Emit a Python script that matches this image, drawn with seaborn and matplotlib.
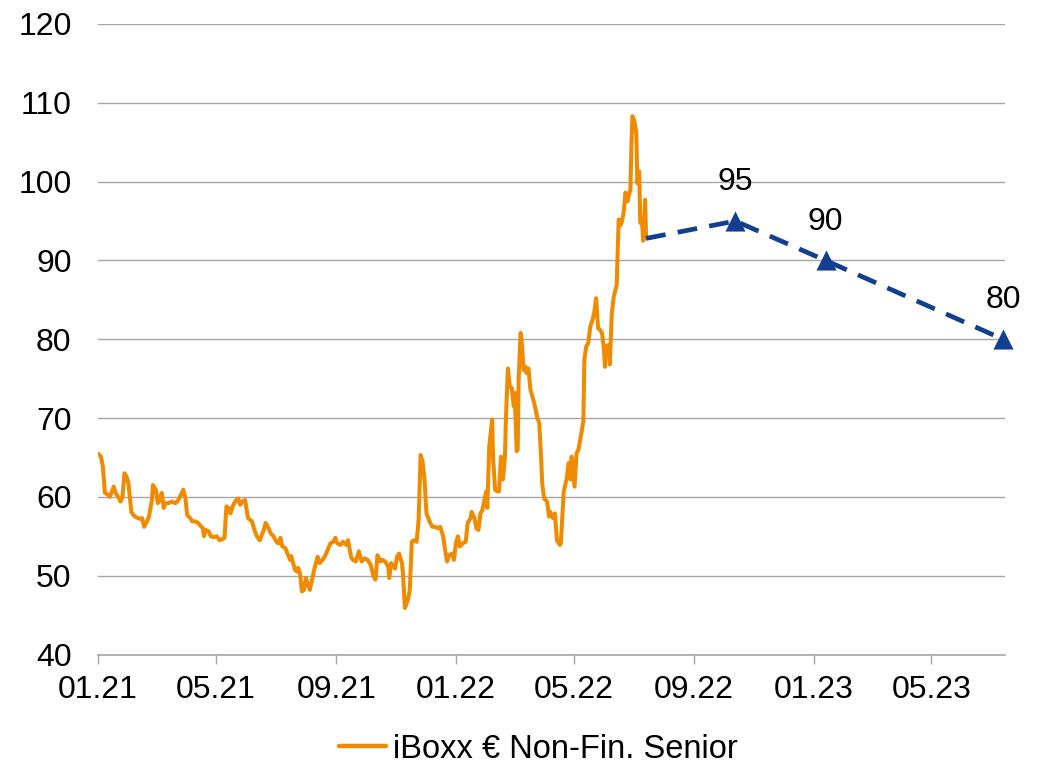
import matplotlib
matplotlib.use("Agg")
import matplotlib.pyplot as plt
from matplotlib.lines import Line2D
import pandas as pd
import seaborn as sns

# iBoxx € Non-Financials Senior spread history
hist_dates = [
    "2021-01-01", "2021-01-04", "2021-01-06", "2021-01-08", "2021-01-11", "2021-01-13",
    "2021-01-17", "2021-01-19", "2021-01-22", "2021-01-24", "2021-01-26", "2021-01-28",
    "2021-01-30", "2021-02-01", "2021-02-04", "2021-02-06", "2021-02-09", "2021-02-13",
    "2021-02-15", "2021-02-17", "2021-02-20", "2021-02-22", "2021-02-25", "2021-02-26",
    "2021-03-01", "2021-03-03", "2021-03-05", "2021-03-07", "2021-03-09", "2021-03-11",
    "2021-03-14", "2021-03-17", "2021-03-21", "2021-03-24", "2021-03-27", "2021-03-29",
    "2021-03-31", "2021-04-02", "2021-04-05", "2021-04-07", "2021-04-10", "2021-04-13",
    "2021-04-15", "2021-04-18", "2021-04-19", "2021-04-21", "2021-04-24", "2021-04-26",
    "2021-04-29", "2021-05-02", "2021-05-05", "2021-05-07", "2021-05-10", "2021-05-12",
    "2021-05-14", "2021-05-16", "2021-05-19", "2021-05-22", "2021-05-24", "2021-05-26",
    "2021-05-28", "2021-05-31", "2021-06-02", "2021-06-03", "2021-06-07", "2021-06-09",
    "2021-06-12", "2021-06-15", "2021-06-19", "2021-06-21", "2021-06-24", "2021-06-26",
    "2021-06-29", "2021-07-02", "2021-07-04", "2021-07-06", "2021-07-08", "2021-07-11",
    "2021-07-13", "2021-07-16", "2021-07-17", "2021-07-19", "2021-07-21", "2021-07-23",
    "2021-07-24", "2021-07-26", "2021-07-28", "2021-07-30", "2021-08-01", "2021-08-04",
    "2021-08-05", "2021-08-08", "2021-08-10", "2021-08-13", "2021-08-15", "2021-08-18",
    "2021-08-21", "2021-08-24", "2021-08-26", "2021-08-29", "2021-08-31", "2021-09-02",
    "2021-09-05", "2021-09-08", "2021-09-11", "2021-09-13", "2021-09-16", "2021-09-18",
    "2021-09-21", "2021-09-24", "2021-09-27", "2021-09-30", "2021-10-03", "2021-10-06",
    "2021-10-09", "2021-10-11", "2021-10-13", "2021-10-16", "2021-10-18", "2021-10-21",
    "2021-10-24", "2021-10-25", "2021-10-27", "2021-10-31", "2021-11-02", "2021-11-04",
    "2021-11-07", "2021-11-08", "2021-11-10", "2021-11-13", "2021-11-15", "2021-11-17",
    "2021-11-19", "2021-11-22", "2021-11-24", "2021-11-26", "2021-11-28", "2021-11-30",
    "2021-12-02", "2021-12-05", "2021-12-08", "2021-12-11", "2021-12-14", "2021-12-16",
    "2021-12-19", "2021-12-21", "2021-12-23", "2021-12-25", "2021-12-28", "2021-12-30",
    "2022-01-01", "2022-01-03", "2022-01-05", "2022-01-08", "2022-01-11", "2022-01-13",
    "2022-01-16", "2022-01-17", "2022-01-20", "2022-01-22", "2022-01-24", "2022-01-26",
    "2022-01-28", "2022-01-30", "2022-02-01", "2022-02-02", "2022-02-04", "2022-02-07",
    "2022-02-08", "2022-02-10", "2022-02-12", "2022-02-14", "2022-02-16", "2022-02-18",
    "2022-02-20", "2022-02-21", "2022-02-23", "2022-02-25", "2022-02-27", "2022-03-01",
    "2022-03-02", "2022-03-04", "2022-03-05", "2022-03-06", "2022-03-08", "2022-03-09",
    "2022-03-11", "2022-03-13", "2022-03-14", "2022-03-16", "2022-03-18", "2022-03-21",
    "2022-03-23", "2022-03-25", "2022-03-27", "2022-03-29", "2022-03-30", "2022-04-01",
    "2022-04-04", "2022-04-06", "2022-04-07", "2022-04-10", "2022-04-12", "2022-04-14",
    "2022-04-17", "2022-04-18", "2022-04-21", "2022-04-24", "2022-04-26", "2022-04-28",
    "2022-04-29", "2022-05-02", "2022-05-04", "2022-05-06", "2022-05-09", "2022-05-11",
    "2022-05-12", "2022-05-14", "2022-05-16", "2022-05-18", "2022-05-20", "2022-05-22",
    "2022-05-24", "2022-05-26", "2022-05-28", "2022-05-30", "2022-06-01", "2022-06-02",
    "2022-06-03", "2022-06-06", "2022-06-07", "2022-06-09", "2022-06-11", "2022-06-14",
    "2022-06-15", "2022-06-16", "2022-06-18", "2022-06-19", "2022-06-21", "2022-06-23",
    "2022-06-25", "2022-06-26", "2022-06-28", "2022-06-29", "2022-06-30", "2022-07-02",
    "2022-07-04", "2022-07-05", "2022-07-07", "2022-07-08", "2022-07-10", "2022-07-11",
    "2022-07-13", "2022-07-14",
]
hist_values = [
    65.5, 65.1, 63.8, 60.5, 60.3, 60.0,
    61.3, 60.5, 59.9, 59.4, 60.0, 63.0,
    62.6, 61.8, 58.1, 57.7, 57.4, 57.2,
    57.3, 56.2, 56.9, 57.5, 59.6, 61.5,
    60.9, 59.2, 59.6, 60.5, 58.6, 59.2,
    59.2, 59.4, 59.2, 59.6, 60.4, 60.9,
    60.0, 57.7, 57.3, 56.9, 56.9, 56.7,
    56.4, 56.0, 55.0, 55.8, 55.6, 55.0,
    54.9, 55.0, 54.5, 54.6, 54.8, 58.8,
    58.6, 57.9, 59.0, 59.6, 59.8, 59.0,
    59.4, 59.6, 58.1, 57.3, 56.9, 56.0,
    55.0, 54.5, 55.8, 56.7, 56.0, 55.4,
    55.0, 54.3, 54.1, 54.8, 53.7, 53.5,
    52.9, 52.0, 52.5, 51.6, 50.7, 50.5,
    51.0, 50.3, 48.0, 48.2, 49.7, 48.6,
    48.2, 49.9, 51.0, 52.4, 51.6, 52.0,
    52.6, 53.5, 54.1, 54.3, 54.8, 54.1,
    53.9, 54.3, 53.9, 54.5, 52.4, 52.0,
    51.8, 53.1, 51.8, 52.2, 52.0, 51.4,
    49.9, 49.5, 52.6, 51.8, 52.0, 51.8,
    51.1, 49.7, 51.6, 50.9, 52.4, 52.8,
    51.6, 50.3, 45.9, 46.9, 48.2, 54.3,
    54.5, 54.3, 57.1, 65.3, 64.5, 62.2,
    57.9, 56.9, 56.2, 56.2, 56.0, 56.2,
    55.0, 53.3, 51.8, 52.6, 52.8, 52.0,
    54.1, 55.0, 53.7, 54.1, 54.3, 56.7,
    57.3, 58.1, 57.3, 56.0, 55.8, 57.9,
    58.3, 59.6, 60.7, 58.6, 66.4, 69.8,
    64.7, 60.9, 60.7, 60.7, 65.1, 62.2,
    65.1, 69.8, 76.3, 74.0, 73.8, 71.5,
    73.2, 65.8, 66.0, 74.9, 80.8, 79.9,
    76.1, 76.5, 75.7, 76.3, 73.6, 72.3,
    71.3, 70.0, 69.4, 64.7, 61.7, 59.8,
    59.4, 57.5, 58.1, 57.3, 57.9, 54.5,
    53.9, 54.1, 60.7, 62.3, 64.3, 62.2,
    65.1, 61.3, 65.5, 66.0, 68.1, 69.6,
    77.4, 79.1, 79.5, 81.6, 82.3, 83.3,
    85.2, 81.4, 81.2, 80.8, 78.7, 76.5,
    79.1, 79.3, 76.8, 83.3, 85.4, 86.9,
    90.9, 95.2, 94.5, 94.8, 96.0, 98.6,
    97.5, 98.1, 99.0, 104.5, 108.3, 107.7,
    106.2, 99.8, 101.3, 94.8, 94.5, 92.5,
    97.7, 92.8,
]
series_label = "iBoxx € Non-Fin. Senior"

# Forecast path, starting from the latest observation
fcst_dates = ["2022-07-14", "2022-10-13", "2023-01-13", "2023-07-13"]
fcst_values = [92.8, 95, 90, 80]

tick_dates = ["2021-01-01", "2021-05-01", "2021-09-01", "2022-01-01",
              "2022-05-01", "2022-09-01", "2023-01-01", "2023-05-01"]
tick_labels = ["01.21", "05.21", "09.21", "01.22", "05.22", "09.22", "01.23", "05.23"]
y_ticks = [40, 50, 60, 70, 80, 90, 100, 110, 120]

ORANGE = "#F08A00"
BLUE = "#123F8F"
GRID = "#A6A6A6"
FS = 23

sns.set_theme(style="white")
plt.rcParams["font.family"] = ["Liberation Sans", "DejaVu Sans"]

hist = pd.DataFrame({"date": pd.to_datetime(hist_dates), "value": hist_values})
fcst = pd.DataFrame({"date": pd.to_datetime(fcst_dates), "value": fcst_values})

fig = plt.figure(figsize=(10.44, 7.67), dpi=100)
ax = fig.add_axes([98 / 1044, 1 - 654.5 / 767, (1005 - 98) / 1044, (654.5 - 24) / 767])

sns.lineplot(data=hist, x="date", y="value", ax=ax, color=ORANGE, linewidth=2.9,
             legend=False, zorder=3)
sns.lineplot(data=fcst, x="date", y="value", ax=ax, color=BLUE, linewidth=3.4,
             linestyle=(0, (4.2, 2.6)), legend=False, zorder=3)
pts = fcst.iloc[1:]
sns.scatterplot(data=pts, x="date", y="value", ax=ax, marker="^", s=210,
                color=BLUE, edgecolor=BLUE, linewidth=0, legend=False,
                zorder=4, clip_on=False)
for d, v in zip(pts["date"], pts["value"]):
    ax.annotate(f"{v:g}", (d, v), xytext=(0, 28), textcoords="offset points",
                ha="center", va="center", fontsize=FS, color="black")

ax.set_xlim(pd.Timestamp("2021-01-01"), pd.Timestamp("2023-07-15"))
ax.set_ylim(40, 120)
ax.set_yticks(y_ticks)
ax.set_xticks(pd.to_datetime(tick_dates))
ax.set_xticklabels(tick_labels)
ax.set_xlabel("")
ax.set_ylabel("")

ax.yaxis.grid(True, color=GRID, linewidth=1)
ax.xaxis.grid(False)
for side in ("top", "right", "left"):
    ax.spines[side].set_visible(False)
ax.spines["bottom"].set_color(GRID)
ax.spines["bottom"].set_linewidth(1.2)

ax.tick_params(axis="x", bottom=True, length=6.5, width=1, color=GRID,
               direction="out", pad=8, labelsize=FS, labelcolor="black")
ax.tick_params(axis="y", left=False, length=0, pad=19, labelsize=FS,
               labelcolor="black")

handle = Line2D([], [], color=ORANGE, linewidth=3.2)
fig.legend(handles=[handle], labels=[series_label], loc="center",
           bbox_to_anchor=(538 / 1044, 1 - 749 / 767), frameon=False,
           fontsize=23.5, handlelength=1.45, handletextpad=0.2,
           borderpad=0.1, labelcolor="black")

fig.savefig("out.png", dpi=100, facecolor="white")
